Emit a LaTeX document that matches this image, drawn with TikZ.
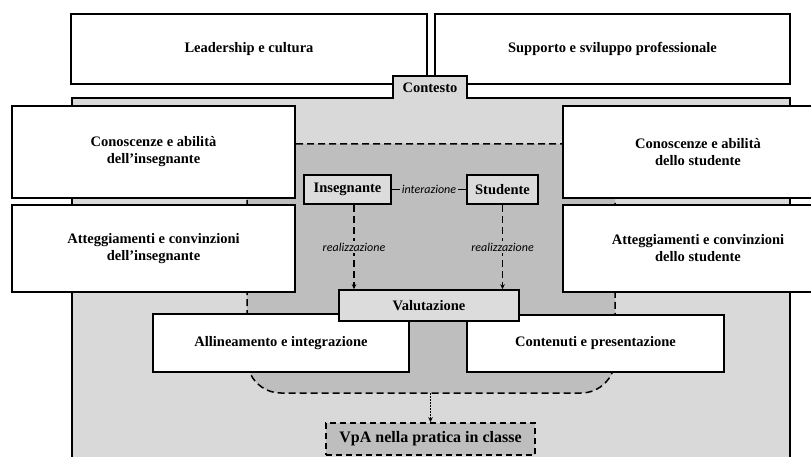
\documentclass[tikz,border=0pt]{standalone}
\usepackage{fontspec}
\setmainfont{Liberation Serif}
\newfontfamily\labelfont{Carlito}
\usetikzlibrary{arrows.meta}

\definecolor{ctxgray}{HTML}{D9D9D9}
\definecolor{coregray}{HTML}{BEBEBE}
\definecolor{actorgray}{HTML}{DCDCDC}

\begin{document}
\begin{tikzpicture}[x=1pt,y=-1pt,
  box/.style={draw=black, line width=1.6pt, fill=white, align=center,
    font=\fontsize{14.5}{17}\selectfont\bfseries, inner sep=0pt},
  actor/.style={box, fill=actorgray},
  outbox/.style={box, fill=coregray, dash pattern=on 6pt off 4pt,
    font=\fontsize{16}{18}\selectfont\bfseries},
  lbl/.style={font=\labelfont\itshape\fontsize{12}{13}\selectfont, fill=coregray, inner sep=1.5pt},
  dsh/.style={dash pattern=on 7pt off 4pt, line width=1.5pt},
  realarrow/.style={-{Stealth[length=5pt,width=4.5pt]}},
  dotarrow/.style={line width=1pt, dash pattern=on 1.5pt off 1.5pt, -{Stealth[length=5pt,width=4.5pt]}},
]
\useasboundingbox (0,0) rectangle (811,457);
\clip (0,0) rectangle (811,457);

% outer factors
\node[box, minimum width=356pt, minimum height=70pt] (lead) at (249,49) {Leadership e cultura};
\node[box, minimum width=355pt, minimum height=70pt] (supp) at (612.5,49) {Supporto e sviluppo professionale};

% context area with its tab
\draw[fill=ctxgray, line width=1.6pt]
  (72,470) -- (72,98) -- (393,98) -- (393,76) -- (467,76) -- (467,98) -- (790,98) -- (790,470);
\node[font=\fontsize{14.5}{17}\selectfont\bfseries] (ctx) at (430,87.5) {Contesto};

% core area
\draw[dsh, fill=coregray, rounded corners=34pt] (247,144) rectangle (615,393);
\coordinate (corebot) at (430.5,393);

% teacher and student characteristics
\node[box, minimum width=283pt, minimum height=92pt] (ci) at (153.5,152) {Conoscenze e abilità\\dell’insegnante};
\node[box, minimum width=283pt, minimum height=87pt] (ai) at (153.5,248.5) {Atteggiamenti e convinzioni\\dell’insegnante};
\node[box, minimum width=270pt, minimum height=92pt] (cs) at (698,152) {Conoscenze e abilità\\dello studente};
\node[box, minimum width=270pt, minimum height=87pt] (as) at (698,248.5) {Atteggiamenti e convinzioni\\dello studente};

% actors
\node[actor, minimum width=87pt, minimum height=29pt] (ins) at (347.5,189.5) {Insegnante};
\node[actor, minimum width=71pt, minimum height=29pt] (stu) at (502.5,189.5) {Studente};

% curriculum boxes
\node[box, minimum width=256pt, minimum height=58pt] (all) at (281,343) {Allineamento e integrazione};
\node[box, minimum width=257pt, minimum height=57pt] (con) at (595.5,343.5) {Contenuti e presentazione};
\node[actor, minimum width=180pt, minimum height=31pt] (val) at (429,305.5) {Valutazione};

% connectors
\draw[line width=1pt] (ins) -- node[lbl] {interazione} (stu);
\draw[dsh, realarrow] ([xshift=6.5pt]ins.south) -- node[lbl] {realizzazione} ([xshift=6.5pt]ins.south |- val.north);
\draw[dsh, realarrow] (stu.south) -- node[lbl] {realizzazione} (stu.south |- val.north);

% outcome
\node[outbox, minimum width=209pt, minimum height=32pt] (vpa) at (430.5,439) {VpA nella pratica in classe};
\draw[dotarrow] (corebot) -- (vpa);
\end{tikzpicture}
\end{document}
